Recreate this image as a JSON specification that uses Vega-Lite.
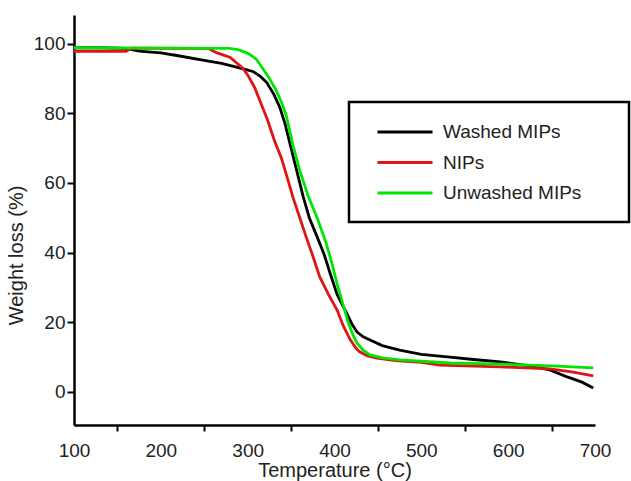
{
  "$schema": "https://vega.github.io/schema/vega-lite/v6.json",
  "width": 521,
  "height": 410,
  "autosize": {"type": "none"},
  "padding": {"left": 74, "top": 15, "right": 36, "bottom": 56},
  "background": "white",
  "config": {
    "view": {"stroke": null},
    "font": "Liberation Sans",
    "axis": {
      "domainColor": "#000000",
      "domainWidth": 2.5,
      "tickColor": "#000000",
      "tickWidth": 2,
      "labelColor": "#222222",
      "titleColor": "#222222",
      "labelFont": "Liberation Sans",
      "titleFont": "Liberation Sans",
      "labelFontSize": 19,
      "titleFontSize": 20,
      "titleFontWeight": "normal",
      "grid": false
    }
  },
  "datasets": {
    "tga": [
      {"series": "Washed MIPs", "t": 100, "w": 98.8},
      {"series": "Washed MIPs", "t": 130, "w": 98.8},
      {"series": "Washed MIPs", "t": 160, "w": 98.6},
      {"series": "Washed MIPs", "t": 175, "w": 97.8},
      {"series": "Washed MIPs", "t": 200, "w": 97.3},
      {"series": "Washed MIPs", "t": 220, "w": 96.5},
      {"series": "Washed MIPs", "t": 245, "w": 95.4},
      {"series": "Washed MIPs", "t": 270, "w": 94.3},
      {"series": "Washed MIPs", "t": 294, "w": 92.8},
      {"series": "Washed MIPs", "t": 306, "w": 92.0},
      {"series": "Washed MIPs", "t": 315, "w": 90.5},
      {"series": "Washed MIPs", "t": 322, "w": 88.8},
      {"series": "Washed MIPs", "t": 330, "w": 85.5},
      {"series": "Washed MIPs", "t": 337, "w": 81.7},
      {"series": "Washed MIPs", "t": 343, "w": 77.0},
      {"series": "Washed MIPs", "t": 349, "w": 71.0},
      {"series": "Washed MIPs", "t": 357, "w": 63.0},
      {"series": "Washed MIPs", "t": 364, "w": 56.0},
      {"series": "Washed MIPs", "t": 371, "w": 50.0},
      {"series": "Washed MIPs", "t": 380, "w": 44.5},
      {"series": "Washed MIPs", "t": 388, "w": 39.5},
      {"series": "Washed MIPs", "t": 395, "w": 34.0},
      {"series": "Washed MIPs", "t": 403, "w": 28.0},
      {"series": "Washed MIPs", "t": 409, "w": 25.0},
      {"series": "Washed MIPs", "t": 414, "w": 22.6},
      {"series": "Washed MIPs", "t": 420, "w": 19.5},
      {"series": "Washed MIPs", "t": 426, "w": 17.2},
      {"series": "Washed MIPs", "t": 433, "w": 15.8},
      {"series": "Washed MIPs", "t": 441, "w": 14.9},
      {"series": "Washed MIPs", "t": 455, "w": 13.3},
      {"series": "Washed MIPs", "t": 475, "w": 12.0},
      {"series": "Washed MIPs", "t": 500, "w": 10.8},
      {"series": "Washed MIPs", "t": 533, "w": 10.0},
      {"series": "Washed MIPs", "t": 560, "w": 9.3},
      {"series": "Washed MIPs", "t": 591, "w": 8.6},
      {"series": "Washed MIPs", "t": 620, "w": 7.6},
      {"series": "Washed MIPs", "t": 648, "w": 6.3},
      {"series": "Washed MIPs", "t": 668, "w": 4.3},
      {"series": "Washed MIPs", "t": 685, "w": 2.8},
      {"series": "Washed MIPs", "t": 698, "w": 1.1},
      {"series": "NIPs", "t": 100, "w": 97.8},
      {"series": "NIPs", "t": 160, "w": 97.8},
      {"series": "NIPs", "t": 166, "w": 98.7},
      {"series": "NIPs", "t": 255, "w": 98.6},
      {"series": "NIPs", "t": 264, "w": 97.4},
      {"series": "NIPs", "t": 280, "w": 96.0},
      {"series": "NIPs", "t": 294, "w": 93.0},
      {"series": "NIPs", "t": 300, "w": 91.0},
      {"series": "NIPs", "t": 308, "w": 87.4},
      {"series": "NIPs", "t": 315, "w": 83.0},
      {"series": "NIPs", "t": 323, "w": 78.0},
      {"series": "NIPs", "t": 331, "w": 72.0},
      {"series": "NIPs", "t": 339, "w": 67.0},
      {"series": "NIPs", "t": 345, "w": 62.0},
      {"series": "NIPs", "t": 352, "w": 56.0},
      {"series": "NIPs", "t": 360, "w": 50.0},
      {"series": "NIPs", "t": 368, "w": 44.0},
      {"series": "NIPs", "t": 375, "w": 39.0},
      {"series": "NIPs", "t": 383, "w": 33.0},
      {"series": "NIPs", "t": 393, "w": 28.0},
      {"series": "NIPs", "t": 403, "w": 23.5},
      {"series": "NIPs", "t": 410, "w": 19.0},
      {"series": "NIPs", "t": 418, "w": 15.0},
      {"series": "NIPs", "t": 424, "w": 12.8},
      {"series": "NIPs", "t": 429, "w": 11.5},
      {"series": "NIPs", "t": 438, "w": 10.3},
      {"series": "NIPs", "t": 449, "w": 9.7},
      {"series": "NIPs", "t": 470, "w": 9.0},
      {"series": "NIPs", "t": 500, "w": 8.5},
      {"series": "NIPs", "t": 521, "w": 7.7},
      {"series": "NIPs", "t": 560, "w": 7.4},
      {"series": "NIPs", "t": 591, "w": 7.2},
      {"series": "NIPs", "t": 620, "w": 6.9},
      {"series": "NIPs", "t": 648, "w": 6.6},
      {"series": "NIPs", "t": 675, "w": 5.7},
      {"series": "NIPs", "t": 698, "w": 4.6},
      {"series": "Unwashed MIPs", "t": 100, "w": 98.8},
      {"series": "Unwashed MIPs", "t": 200, "w": 98.7},
      {"series": "Unwashed MIPs", "t": 279, "w": 98.6},
      {"series": "Unwashed MIPs", "t": 290, "w": 98.2},
      {"series": "Unwashed MIPs", "t": 302, "w": 97.0},
      {"series": "Unwashed MIPs", "t": 310, "w": 95.5},
      {"series": "Unwashed MIPs", "t": 317, "w": 93.0},
      {"series": "Unwashed MIPs", "t": 325, "w": 90.0},
      {"series": "Unwashed MIPs", "t": 333, "w": 86.5},
      {"series": "Unwashed MIPs", "t": 340, "w": 82.5},
      {"series": "Unwashed MIPs", "t": 345, "w": 78.8},
      {"series": "Unwashed MIPs", "t": 352, "w": 71.0},
      {"series": "Unwashed MIPs", "t": 360, "w": 63.6},
      {"series": "Unwashed MIPs", "t": 370, "w": 56.0},
      {"series": "Unwashed MIPs", "t": 380, "w": 50.0},
      {"series": "Unwashed MIPs", "t": 390, "w": 43.0},
      {"series": "Unwashed MIPs", "t": 397, "w": 37.0},
      {"series": "Unwashed MIPs", "t": 403, "w": 31.0},
      {"series": "Unwashed MIPs", "t": 410, "w": 25.0},
      {"series": "Unwashed MIPs", "t": 416, "w": 19.8},
      {"series": "Unwashed MIPs", "t": 421, "w": 16.5},
      {"series": "Unwashed MIPs", "t": 426, "w": 14.0},
      {"series": "Unwashed MIPs", "t": 433, "w": 12.0},
      {"series": "Unwashed MIPs", "t": 441, "w": 10.6},
      {"series": "Unwashed MIPs", "t": 455, "w": 9.8},
      {"series": "Unwashed MIPs", "t": 475, "w": 9.2},
      {"series": "Unwashed MIPs", "t": 500, "w": 8.8},
      {"series": "Unwashed MIPs", "t": 533, "w": 8.3},
      {"series": "Unwashed MIPs", "t": 591, "w": 8.0},
      {"series": "Unwashed MIPs", "t": 650, "w": 7.5},
      {"series": "Unwashed MIPs", "t": 698, "w": 6.9}
    ]
  },
  "layer": [
    {
      "data": {"name": "tga"},
      "mark": {"type": "line", "strokeWidth": 2.8, "clip": true},
      "encoding": {
        "x": {
          "field": "t",
          "type": "quantitative",
          "scale": {"domain": [100, 700], "nice": false, "zero": false},
          "axis": {
            "title": "Temperature (°C)",
            "values": [100, 150, 200, 250, 300, 350, 400, 450, 500, 550, 600, 650, 700],
            "labelExpr": "datum.value % 100 === 0 ? datum.label : ''",
            "tickOpacity": {"condition": {"test": "datum.value % 100 !== 0", "value": 1}, "value": 0},
            "tickSize": 6,
            "labelPadding": 10,
            "labelFlush": false,
            "labelOverlap": false,
            "titlePadding": 0
          }
        },
        "y": {
          "field": "w",
          "type": "quantitative",
          "scale": {"domain": [-9.5, 108.2], "nice": false, "zero": false},
          "axis": {
            "title": "Weight loss (%)",
            "values": [0, 20, 40, 60, 80, 100],
            "tickSize": 7,
            "labelPadding": 2,
            "titleX": -48,
            "titleY": 240
          }
        },
        "color": {
          "field": "series",
          "type": "nominal",
          "sort": ["Washed MIPs", "NIPs", "Unwashed MIPs"],
          "scale": {"domain": ["Washed MIPs", "NIPs", "Unwashed MIPs"], "range": ["#000000", "#e01414", "#00e600"]},
          "legend": {
            "title": null,
            "orient": "none",
            "legendX": 275,
            "legendY": 87,
            "symbolType": "M-2.9,0L2.9,0",
            "symbolSize": 361,
            "symbolStrokeWidth": 3,
            "symbolOffset": 26,
            "labelOffset": 27,
            "labelFontSize": 19,
            "labelColor": "#222222",
            "labelFont": "Liberation Sans",
            "labelLimit": 400,
            "labelExpr": "datum.label + '⠀⠀'",
            "rowPadding": 9.5,
            "padding": 19,
            "fillColor": "#ffffff",
            "strokeColor": "#000000",
            "cornerRadius": 0,
            "encode": {"legend": {"update": {"strokeWidth": {"value": 2.5}}}}
          }
        }
      }
    },
    {
      "mark": {"type": "text", "fontSize": 22, "font": "Liberation Sans", "color": "#222222"},
      "encoding": {
        "x": {"datum": 157},
        "y": {"datum": 65},
        "text": {"value": "(a)"}
      }
    }
  ]
}
